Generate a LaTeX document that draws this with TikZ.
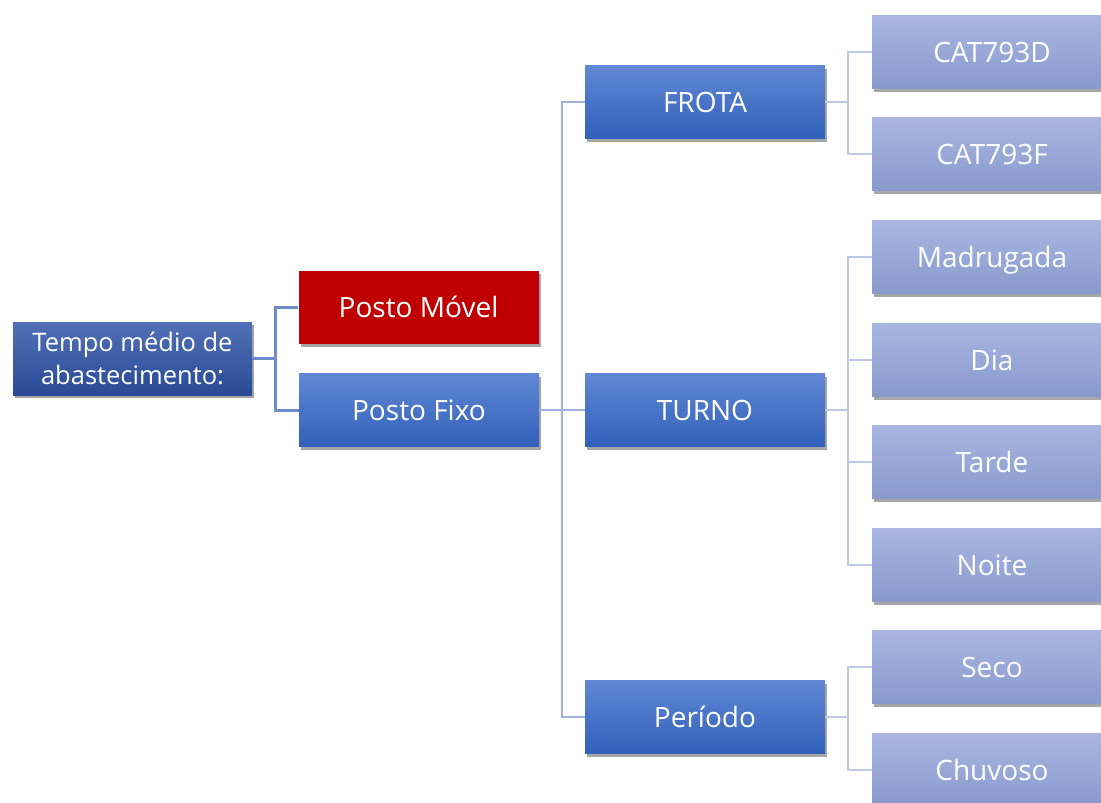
\documentclass[tikz,border=0pt]{standalone}
\usepackage{fontspec}
\setmainfont{Open Sans}
\usepackage{xcolor}
\usetikzlibrary{shadows, positioning}
\definecolor{rootTop}{RGB}{82,112,182}
\definecolor{rootBot}{RGB}{40,74,150}
\definecolor{midTop}{RGB}{96,136,212}
\definecolor{midBot}{RGB}{50,96,186}
\definecolor{leafTop}{RGB}{168,182,224}
\definecolor{leafBot}{RGB}{136,153,205}
\definecolor{movelRed}{RGB}{192,0,0}
\definecolor{lineA}{RGB}{111,140,205}
\definecolor{lineB}{RGB}{160,178,220}
\definecolor{lineC}{RGB}{190,200,229}

\begin{document}
\begin{tikzpicture}[x=1pt, y=-1pt,
    box/.style={rectangle, inner sep=0pt, minimum width=240pt, minimum height=73pt,
        text=white, font=\fontsize{28}{32}\selectfont,
        text height=20pt, text depth=0pt,
        drop shadow={shadow xshift=2pt, shadow yshift=-3pt, opacity=0.35, fill=black}},
    rootbox/.style={box, minimum width=239pt, top color=rootTop, bottom color=rootBot,
        align=center, font=\fontsize{25.5}{33}\selectfont, text height=, text depth=},
    movelbox/.style={box, fill=movelRed},
    midbox/.style={box, top color=midTop, bottom color=midBot},
    leafbox/.style={box, top color=leafTop, bottom color=leafBot},
    linkA/.style={draw=lineA, line width=3pt},
    linkB/.style={draw=lineB, line width=2.5pt},
    linkC/.style={draw=lineC, line width=2.5pt}]
    \clip (0,0) rectangle (1101,803);

    \node[rootbox] (tempo) at (132.5, 358.5) {Tempo médio de\\abastecimento:};
    \node[movelbox] (movel) at (418.5, 307) {Posto Móvel};
    \node[midbox] (fixo) at (419, 410) {Posto Fixo};

    \node[midbox] (frota) at (705, 102) {FROTA};
    \node[midbox] (turno) at (705, 410) {TURNO};
    \node[midbox] (periodo) at (705, 717) {Período};

    \node[leafbox] (cat793d) at (992, 52) {CAT793D};
    \node[leafbox] (cat793f) at (992, 154) {CAT793F};
    \node[leafbox] (madrugada) at (992, 257) {Madrugada};
    \node[leafbox] (dia) at (992, 360) {Dia};
    \node[leafbox] (tarde) at (992, 462) {Tarde};
    \node[leafbox] (noite) at (992, 565) {Noite};
    \node[leafbox] (seco) at (992, 667) {Seco};
    \node[leafbox] (chuvoso) at (992, 770) {Chuvoso};

    \coordinate (j0) at (275, 358);
    \coordinate (j1) at (562, 410);
    \coordinate (j2) at (848, 102);
    \coordinate (j3) at (848, 410);
    \coordinate (j4) at (848, 717);

    % posto
    \draw[linkA] (tempo.east) -- (tempo.east -| j0) |- (movel.west);
    \draw[linkA] (tempo.east -| j0) |- (fixo.west);
    % grupos
    \draw[linkB] (fixo.east) -- (turno.west);
    \draw[linkB] (fixo.east -| j1) |- (frota.west);
    \draw[linkB] (fixo.east -| j1) |- (periodo.west);
    % frota
    \draw[linkC] (frota.east) -- (frota.east -| j2) |- (cat793d.west);
    \draw[linkC] (frota.east -| j2) |- (cat793f.west);
    % turno
    \draw[linkC] (turno.east) -- (turno.east -| j3) |- (madrugada.west);
    \draw[linkC] (turno.east -| j3) |- (dia.west);
    \draw[linkC] (turno.east -| j3) |- (tarde.west);
    \draw[linkC] (turno.east -| j3) |- (noite.west);
    % periodo
    \draw[linkC] (periodo.east) -- (periodo.east -| j4) |- (seco.west);
    \draw[linkC] (periodo.east -| j4) |- (chuvoso.west);
\end{tikzpicture}
\end{document}
